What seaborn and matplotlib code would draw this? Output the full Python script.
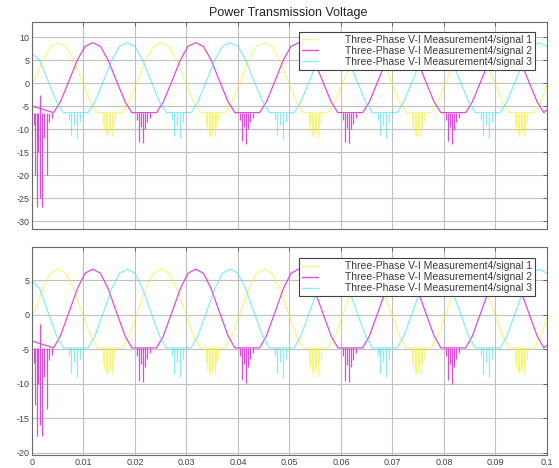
import numpy as np
import pandas as pd
import matplotlib
matplotlib.use("Agg")
import matplotlib.pyplot as plt
import seaborn as sns
from matplotlib.lines import Line2D

# ---------------- text ----------------
TITLE = "Power Transmission Voltage"
LABELS = ["Three-Phase V-I Measurement4/signal 1",
          "Three-Phase V-I Measurement4/signal 2",
          "Three-Phase V-I Measurement4/signal 3"]
COLORS = ["#f2f020", "#d83ad8", "#48e4f0"]
ALPHAS = [0.55, 0.9, 0.65]

x_ticks = [0, 0.01, 0.02, 0.03, 0.04, 0.05, 0.06, 0.07, 0.08, 0.09, 0.1]
x_tick_labels = ["0", "0.01", "0.02", "0.03", "0.04", "0.05", "0.06", "0.07", "0.08", "0.09", "0.1"]
top_yticks = [10, 5, 0, -5, -10, -15, -20, -25, -30]
bot_yticks = [5, 0, -5, -10, -15, -20]

# ---------------- waveform breakpoints (time in ms) ----------------
# signal 1 (yellow)
sig1_t = [0, 0.6, 2.1, 3.6, 5.1, 6.6, 8.1, 9.6, 11.4, 12.7,
          17.5, 18.8, 20.6, 22.1, 23.6, 25.1, 26.6, 28.1, 29.6, 31.4, 32.7,
          37.5, 38.8, 40.6, 42.1, 43.6, 45.1, 46.6, 48.1, 49.6, 51.4, 52.7,
          57.5, 58.8, 60.6, 62.1, 63.6, 65.1, 66.6, 68.1, 69.6, 71.4, 72.7,
          77.5, 78.8, 80.6, 82.1, 83.6, 85.1, 86.6, 88.1, 89.6, 91.4, 92.7,
          97.5, 98.8, 100]
sig1_top = [0.0, 0.8, 5.0, 8.0, 8.8, 8.0, 5.0, 0.8, -4.1, -6.4,
            -6.4, -4.1, 0.8, 5.0, 8.0, 8.8, 8.0, 5.0, 0.8, -4.1, -6.4,
            -6.4, -4.1, 0.8, 5.0, 8.0, 8.8, 8.0, 5.0, 0.8, -4.1, -6.4,
            -6.4, -4.1, 0.8, 5.0, 8.0, 8.8, 8.0, 5.0, 0.8, -4.1, -6.4,
            -6.4, -4.1, 0.8, 5.0, 8.0, 8.8, 8.0, 5.0, 0.8, -4.1, -6.4,
            -6.4, -4.1, -0.5]
sig1_bot = [0.0, 0.6, 3.75, 6.0, 6.6, 6.0, 3.75, 0.6, -3.1, -4.8,
            -4.8, -3.1, 0.6, 3.75, 6.0, 6.6, 6.0, 3.75, 0.6, -3.1, -4.8,
            -4.8, -3.1, 0.6, 3.75, 6.0, 6.6, 6.0, 3.75, 0.6, -3.1, -4.8,
            -4.8, -3.1, 0.6, 3.75, 6.0, 6.6, 6.0, 3.75, 0.6, -3.1, -4.8,
            -4.8, -3.1, 0.6, 3.75, 6.0, 6.6, 6.0, 3.75, 0.6, -3.1, -4.8,
            -4.8, -3.1, -0.4]

# signal 2 (magenta)
sig2_t = [0,
          4.2, 5.5, 7.3, 8.8, 10.3, 11.8, 13.3, 14.8, 16.3, 18.1, 19.4,
          24.2, 25.5, 27.3, 28.8, 30.3, 31.8, 33.3, 34.8, 36.3, 38.1, 39.4,
          44.2, 45.5, 47.3, 48.8, 50.3, 51.8, 53.3, 54.8, 56.3, 58.1, 59.4,
          64.2, 65.5, 67.3, 68.8, 70.3, 71.8, 73.3, 74.8, 76.3, 78.1, 79.4,
          84.2, 85.5, 87.3, 88.8, 90.3, 91.8, 93.3, 94.8, 96.3, 98.1, 99.4,
          100]
sig2_top = [-5.0,
            -6.4, -4.1, 0.8, 5.0, 8.0, 8.8, 8.0, 5.0, 0.8, -4.1, -6.4,
            -6.4, -4.1, 0.8, 5.0, 8.0, 8.8, 8.0, 5.0, 0.8, -4.1, -6.4,
            -6.4, -4.1, 0.8, 5.0, 8.0, 8.8, 8.0, 5.0, 0.8, -4.1, -6.4,
            -6.4, -4.1, 0.8, 5.0, 8.0, 8.8, 8.0, 5.0, 0.8, -4.1, -6.4,
            -6.4, -4.1, 0.8, 5.0, 8.0, 8.8, 8.0, 5.0, 0.8, -4.1, -6.4,
            -5.8]
sig2_bot = [-3.8,
            -4.8, -3.1, 0.6, 3.75, 6.0, 6.6, 6.0, 3.75, 0.6, -3.1, -4.8,
            -4.8, -3.1, 0.6, 3.75, 6.0, 6.6, 6.0, 3.75, 0.6, -3.1, -4.8,
            -4.8, -3.1, 0.6, 3.75, 6.0, 6.6, 6.0, 3.75, 0.6, -3.1, -4.8,
            -4.8, -3.1, 0.6, 3.75, 6.0, 6.6, 6.0, 3.75, 0.6, -3.1, -4.8,
            -4.8, -3.1, 0.6, 3.75, 6.0, 6.6, 6.0, 3.75, 0.6, -3.1, -4.8,
            -4.4]

# signal 3 (cyan)
sig3_t = [0, 1.5, 3.0, 4.8, 6.1,
          10.9, 12.2, 14.0, 15.5, 17.0, 18.5, 20.0, 21.5, 23.0, 24.8, 26.1,
          30.9, 32.2, 34.0, 35.5, 37.0, 38.5, 40.0, 41.5, 43.0, 44.8, 46.1,
          50.9, 52.2, 54.0, 55.5, 57.0, 58.5, 60.0, 61.5, 63.0, 64.8, 66.1,
          70.9, 72.2, 74.0, 75.5, 77.0, 78.5, 80.0, 81.5, 83.0, 84.8, 86.1,
          90.9, 92.2, 94.0, 95.5, 97.0, 98.5, 100]
sig3_top = [6.5, 5.0, 0.8, -4.1, -6.4,
            -6.4, -4.1, 0.8, 5.0, 8.0, 8.8, 8.0, 5.0, 0.8, -4.1, -6.4,
            -6.4, -4.1, 0.8, 5.0, 8.0, 8.8, 8.0, 5.0, 0.8, -4.1, -6.4,
            -6.4, -4.1, 0.8, 5.0, 8.0, 8.8, 8.0, 5.0, 0.8, -4.1, -6.4,
            -6.4, -4.1, 0.8, 5.0, 8.0, 8.8, 8.0, 5.0, 0.8, -4.1, -6.4,
            -6.4, -4.1, 0.8, 5.0, 8.0, 8.8, 8.0]
sig3_bot = [4.9, 3.75, 0.6, -3.1, -4.8,
            -4.8, -3.1, 0.6, 3.75, 6.0, 6.6, 6.0, 3.75, 0.6, -3.1, -4.8,
            -4.8, -3.1, 0.6, 3.75, 6.0, 6.6, 6.0, 3.75, 0.6, -3.1, -4.8,
            -4.8, -3.1, 0.6, 3.75, 6.0, 6.6, 6.0, 3.75, 0.6, -3.1, -4.8,
            -4.8, -3.1, 0.6, 3.75, 6.0, 6.6, 6.0, 3.75, 0.6, -3.1, -4.8,
            -4.8, -3.1, 0.6, 3.75, 6.0, 6.6, 6.0]

# ---------------- spikes in clipped troughs (time in ms, tip value) ----------------
sig1_spike_t = [13.7, 14.0, 14.3, 14.6, 14.9, 15.2, 15.5, 15.8, 16.1,
                33.7, 34.0, 34.3, 34.6, 34.9, 35.2, 35.5, 35.8, 36.1,
                53.7, 54.0, 54.3, 54.6, 54.9, 55.2, 55.5, 55.8, 56.1,
                73.7, 74.0, 74.3, 74.6, 74.9, 75.2, 75.5, 75.8, 76.1,
                93.7, 94.0, 94.3, 94.6, 94.9, 95.2, 95.5, 95.8, 96.1]
sig1_spike_top = [-9.0, -10.5, -11.0, -11.5, -11.0, -10.5, -11.5, -9.5, -8.5,
                  -9.0, -10.5, -11.2, -11.8, -11.0, -10.5, -11.5, -9.5, -8.5,
                  -9.0, -10.5, -11.0, -11.5, -11.0, -10.5, -12.0, -9.5, -8.5,
                  -9.0, -10.5, -11.0, -11.5, -11.3, -10.5, -11.5, -9.5, -8.5,
                  -9.0, -10.5, -11.0, -11.5, -11.0, -10.5, -11.5, -9.5, -8.5]
sig1_spike_bot = [-6.8, -7.9, -8.3, -8.6, -8.3, -7.9, -8.6, -7.1, -6.4,
                  -6.8, -7.9, -8.4, -8.9, -8.3, -7.9, -8.6, -7.1, -6.4,
                  -6.8, -7.9, -8.3, -8.6, -8.3, -7.9, -9.0, -7.1, -6.4,
                  -6.8, -7.9, -8.3, -8.6, -8.5, -7.9, -8.6, -7.1, -6.4,
                  -6.8, -7.9, -8.3, -8.6, -8.3, -7.9, -8.6, -7.1, -6.4]

sig2_spike_t = [0.3, 0.6, 0.9, 1.2, 1.5, 1.6, 1.9, 2.3, 2.85, 3.3, 3.8,
                20.3, 20.7, 21.1, 21.5, 21.9, 22.4, 22.9,
                40.3, 40.7, 41.1, 41.5, 41.9, 42.4, 42.9,
                60.3, 60.7, 61.1, 61.5, 61.9, 62.4, 62.9,
                80.3, 80.7, 81.1, 81.5, 81.9, 82.4, 82.9]
sig2_spike_top = [-9.0, -20.0, -27.0, -15.0, -2.6, -25.0, -27.0, -12.0, -20.0, -8.5, -7.5,
                  -8.0, -12.8, -9.5, -13.0, -10.0, -8.5, -7.5,
                  -8.0, -12.5, -9.5, -13.2, -10.0, -8.5, -7.5,
                  -8.0, -12.8, -9.8, -13.0, -10.0, -8.8, -7.5,
                  -8.0, -12.6, -9.5, -13.3, -10.2, -8.5, -7.5]
sig2_spike_bot = [-7.0, -13.0, -17.6, -10.0, -1.4, -16.0, -17.6, -9.0, -13.7, -6.5, -5.8,
                  -6.0, -9.6, -7.1, -9.7, -7.5, -6.4, -5.6,
                  -6.0, -9.4, -7.1, -9.9, -7.5, -6.4, -5.6,
                  -6.0, -9.6, -7.3, -9.7, -7.5, -6.6, -5.6,
                  -6.0, -9.5, -7.1, -10.0, -7.6, -6.4, -5.6]

sig3_spike_t = [7.1, 7.6, 8.1, 8.7, 9.3,
                27.1, 27.6, 28.1, 28.7, 29.3,
                47.1, 47.6, 48.1, 48.7, 49.3,
                67.1, 67.6, 68.1, 68.7, 69.3,
                87.1, 87.6, 88.1, 88.7, 89.3]
sig3_spike_top = [-8.0, -11.3, -9.0, -12.0, -8.5,
                  -8.0, -11.5, -9.0, -12.0, -8.5,
                  -8.0, -11.3, -9.2, -12.2, -8.5,
                  -8.0, -11.3, -9.0, -12.0, -8.5,
                  -8.0, -11.5, -9.0, -12.0, -8.5]
sig3_spike_bot = [-6.0, -8.5, -6.8, -9.0, -6.4,
                  -6.0, -8.6, -6.8, -9.0, -6.4,
                  -6.0, -8.5, -6.9, -9.2, -6.4,
                  -6.0, -8.5, -6.8, -9.0, -6.4,
                  -6.0, -8.6, -6.8, -9.0, -6.4]

clip_top = -6.4
clip_bot = -4.8

# ---------------- figure ----------------
sns.set_style("white")
plt.rcParams["font.family"] = ["Liberation Sans", "DejaVu Sans"]

fig = plt.figure(figsize=(5.59, 4.68), dpi=100)
ax1 = fig.add_axes([0.0572, 0.5107, 0.9213, 0.4423])
ax2 = fig.add_axes([0.0572, 0.0278, 0.9213, 0.4444])

panels = [
    (ax1, [sig1_top, sig2_top, sig3_top],
     [sig1_spike_top, sig2_spike_top, sig3_spike_top], clip_top,
     (-31.7, 13.3), top_yticks, 0.952),
    (ax2, [sig1_bot, sig2_bot, sig3_bot],
     [sig1_spike_bot, sig2_spike_bot, sig3_spike_bot], clip_bot,
     (-20.3, 9.8), bot_yticks, 0.947),
]
times = [sig1_t, sig2_t, sig3_t]
spike_times = [sig1_spike_t, sig2_spike_t, sig3_spike_t]

for ax, vals, spikes, clip, ylim, yticks, leg_y in panels:
    for lab, col, alp, t, v, st, sv in zip(LABELS, COLORS, ALPHAS, times, vals,
                                           spike_times, spikes):
        df = pd.DataFrame({"time": np.array(t) / 1000.0, "value": v})
        sns.lineplot(data=df, x="time", y="value", color=col, alpha=alp,
                     estimator=None, sort=False, linewidth=0.9, ax=ax)
        ax.vlines(np.array(st) / 1000.0, clip, sv, colors=col, alpha=alp,
                  linewidth=0.9)

    ax.set_xlim(0, 0.1)
    ax.set_ylim(*ylim)
    ax.set_xticks(x_ticks)
    ax.set_yticks(yticks)
    ax.set_yticklabels([str(v) for v in yticks])
    ax.set_xlabel("")
    ax.set_ylabel("")
    ax.grid(True, color="#c0c0c0", linewidth=0.8)
    ax.set_axisbelow(True)
    for s in ax.spines.values():
        s.set_color("#6a6a6a")
        s.set_linewidth(0.8)
    ax.tick_params(axis="both", direction="in", length=3, width=0.6,
                   colors="#555555", labelsize=6.5, labelcolor="#444444",
                   top=True, right=True, pad=2)

    handles = [Line2D([0], [0], color=c, alpha=a, lw=1.0) for c, a in zip(COLORS, ALPHAS)]
    leg = ax.legend(handles, LABELS, loc="upper right",
                    bbox_to_anchor=(0.977, leg_y), borderaxespad=0,
                    fontsize=7.5, frameon=True, fancybox=False,
                    framealpha=1, edgecolor="#404040",
                    handlelength=1.5, handletextpad=2.6,
                    labelspacing=0.1, borderpad=0.3)
    leg.get_frame().set_linewidth(0.8)
    for txt in leg.get_texts():
        txt.set_color("#3a3a3a")

ax1.set_xticklabels([])
ax2.set_xticklabels(x_tick_labels)

fig.text(0.515, 0.972, TITLE, ha="center", va="center", fontsize=9, color="#222222")

fig.savefig("out.png", dpi=100, facecolor="white")
